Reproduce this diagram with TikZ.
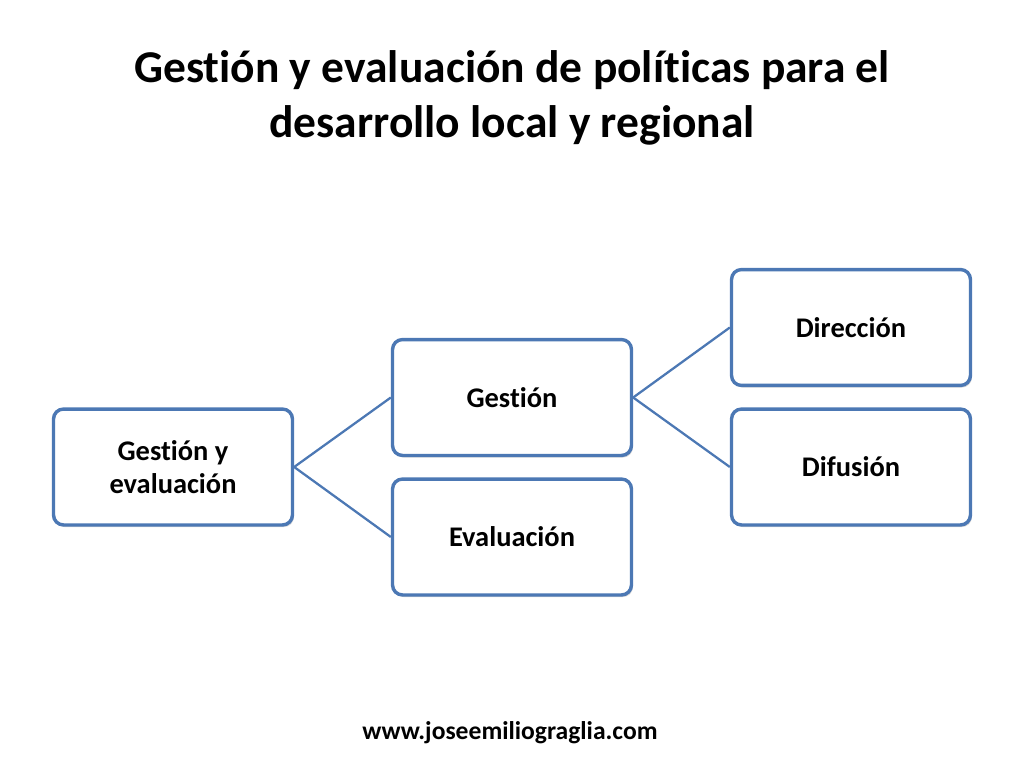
\documentclass[tikz,border=0pt]{standalone}
\usepackage{fontspec}
\setmainfont[Ligatures=NoCommon]{Carlito}
\usetikzlibrary{shadows}
\definecolor{boxblue}{RGB}{76,120,180}

\begin{document}
\begin{tikzpicture}[x=0.703125pt, y=-0.703125pt]
    % Define styles
    \tikzset{
        item/.style={
            draw=boxblue,
            line width=2.4pt,
            fill=white,
            rounded corners=7pt,
            minimum width=168pt,
            minimum height=81.5pt,
            align=center,
            font=\fontsize{20}{23}\selectfont\bfseries,
            drop shadow={shadow xshift=1pt, shadow yshift=-1.5pt, opacity=0.3}
        },
        link/.style={
            draw=boxblue,
            line width=1.6pt
        }
    }

    % Slide area
    \useasboundingbox (0,0) rectangle (1024,768);

    % Title
    \node[font=\fontsize{32}{38.5}\selectfont\bfseries, align=center] (title) at (512,98) {
        Gestión y evaluación de políticas para el\\
        desarrollo local y regional
    };

    % Boxes
    \node[item] (root) at (173,467) {Gestión y\\evaluación};
    \node[item] (gest) at (512,397.5) {Gestión};
    \node[item] (eval) at (512,537) {Evaluación};
    \node[item] (dir) at (851,327.5) {Dirección};
    \node[item] (dif) at (851,467) {Difusión};

    % Connect boxes
    \draw[link] (root.east) -- (gest.west);
    \draw[link] (root.east) -- (eval.west);
    \draw[link] (gest.east) -- (dir.west);
    \draw[link] (gest.east) -- (dif.west);

    % Web address
    \node[font=\fontsize{18}{21}\selectfont\bfseries] (web) at (510,733) {www.joseemiliograglia.com};
\end{tikzpicture}
\end{document}
